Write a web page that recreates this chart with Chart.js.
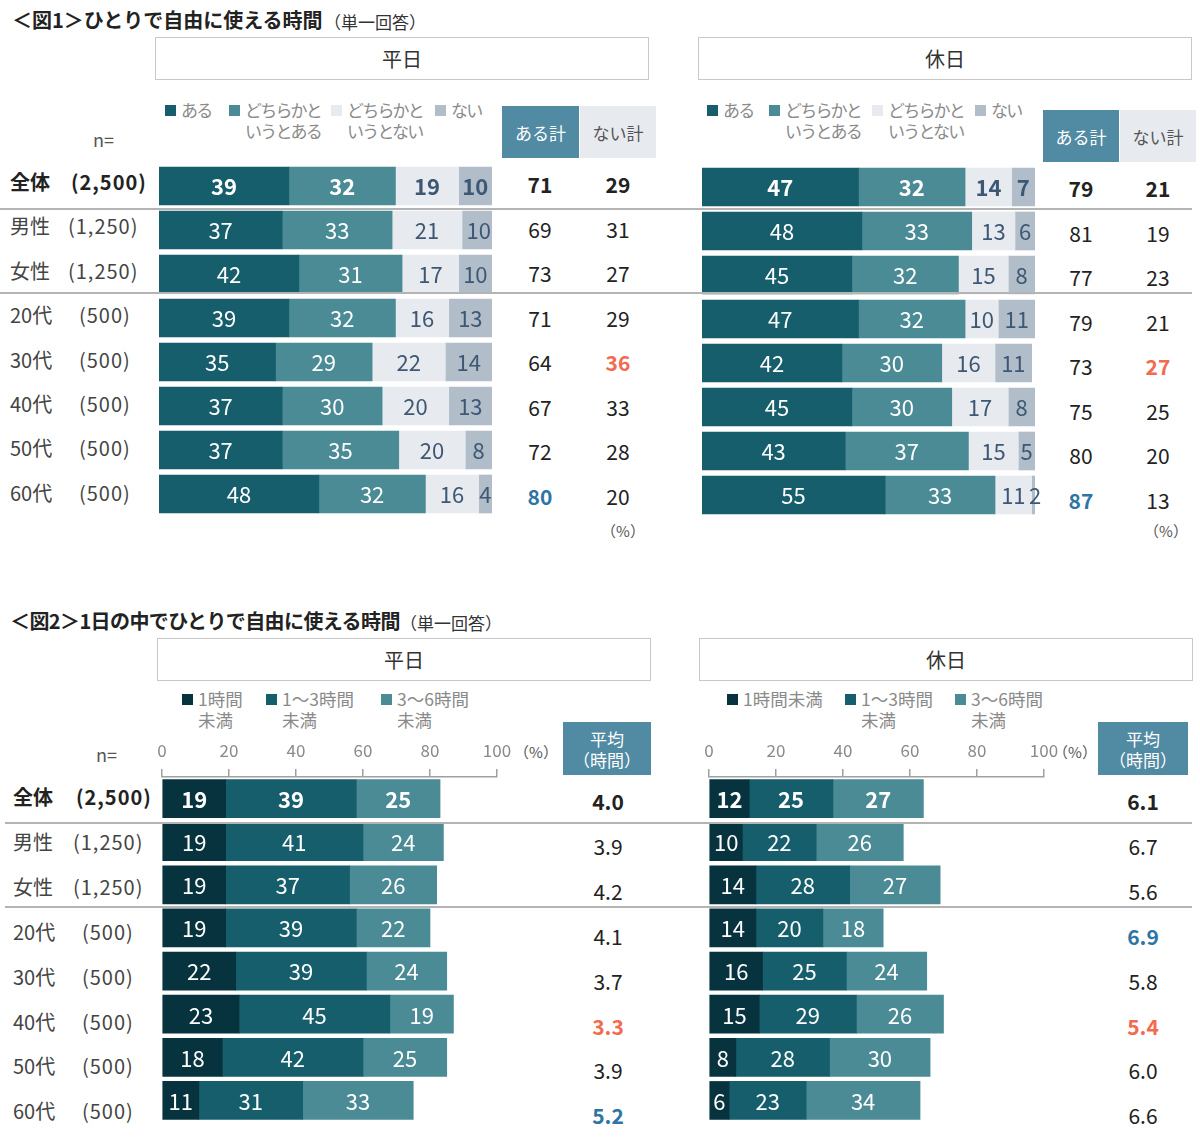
<!DOCTYPE html>
<html>
<head>
<meta charset="utf-8">
<script src="https://cdn.jsdelivr.net/npm/chart.js@4.4.1/dist/chart.umd.min.js"></script>
<style>
  body { margin: 0; background: #fff; font-family: "Noto Sans CJK JP", "Noto Sans", sans-serif; color: #333; }
  #page { position: relative; width: 1200px; height: 1145px; overflow: hidden; }
  .t { position: absolute; white-space: nowrap; line-height: 1; }
  .box { position: absolute; box-sizing: border-box; display: flex; align-items: center; justify-content: center; text-align: center; }
  .sq { position: absolute; width: 11px; height: 11px; }
  .line { position: absolute; height: 0; border-top: 2px solid #b4b4b4; }
  canvas { position: absolute; }
</style>
</head>
<body>
<div id="page"></div>
<script>
// ---- data ----
const rowNames = ["全体", "男性", "女性", "20代", "30代", "40代", "50代", "60代"];
const rowN = ["(2,500)", "(1,250)", "(1,250)", "(500)", "(500)", "(500)", "(500)", "(500)"];

// 図1 ひとりで自由に使える時間
const fig1Keys = ["ある", "どちらかと\nいうとある", "どちらかと\nいうとない", "ない"];
const weekdayAru = [39, 37, 42, 39, 35, 37, 37, 48];
const weekdayDochiraAru = [32, 33, 31, 32, 29, 30, 35, 32];
const weekdayDochiraNai = [19, 21, 17, 16, 22, 20, 20, 16];
const weekdayNai = [10, 10, 10, 13, 14, 13, 8, 4];
const weekdayAruTotal = [71, 69, 73, 71, 64, 67, 72, 80];
const weekdayNaiTotal = [29, 31, 27, 29, 36, 33, 28, 20];

const holidayAru = [47, 48, 45, 47, 42, 45, 43, 55];
const holidayDochiraAru = [32, 33, 32, 32, 30, 30, 37, 33];
const holidayDochiraNai = [14, 13, 15, 10, 16, 17, 15, 11];
const holidayNai = [7, 6, 8, 11, 11, 8, 5, 2];
const holidayAruTotal = [79, 81, 77, 79, 73, 75, 80, 87];
const holidayNaiTotal = [21, 19, 23, 21, 27, 25, 20, 13];

// 図2 1日の中でひとりで自由に使える時間
const weekdayKeys = ["1時間\n未満", "1～3時間\n未満", "3～6時間\n未満"];
const holidayKeys = ["1時間未満", "1～3時間\n未満", "3～6時間\n未満"];
const weekdayUnder1 = [19, 19, 19, 19, 22, 23, 18, 11];
const weekday1to3 = [39, 41, 37, 39, 39, 45, 42, 31];
const weekday3to6 = [25, 24, 26, 22, 24, 19, 25, 33];
const weekdayAvg = [4.0, 3.9, 4.2, 4.1, 3.7, 3.3, 3.9, 5.2];
const holidayUnder1 = [12, 10, 14, 14, 16, 15, 8, 6];
const holiday1to3 = [25, 22, 28, 20, 25, 29, 28, 23];
const holiday3to6 = [27, 26, 27, 18, 24, 26, 30, 34];
const holidayAvg = [6.1, 6.7, 5.6, 6.9, 5.8, 5.4, 6.0, 6.6];
const axisTicks = [0, 20, 40, 60, 80, 100];

// ---- helpers ----
const FONT = '"Noto Sans CJK JP", "Noto Sans", sans-serif';
const page = document.getElementById("page");
const C_ARU = "#165e6b", C_DARU = "#4a8b96", C_DNAI = "#e7eaef", C_NAI = "#b1bdc9", C_DEEP = "#07333f";
const C_HEAD = "#518aa3", C_RED = "#f26b50", C_BLUE = "#2e75a6", C_SLATE = "#3d5875";

function txt(x, y, s, css, align) {
  const d = document.createElement("div");
  d.className = "t";
  d.textContent = s;
  d.style.left = x + "px";
  d.style.top = y + "px";
  d.style.transform = align === "c" ? "translate(-50%,-50%)" : "translateY(-50%)";
  Object.assign(d.style, css || {});
  page.appendChild(d);
  return d;
}
function box(x, y, w, h, html, css) {
  const d = document.createElement("div");
  d.className = "box";
  Object.assign(d.style, { left: x + "px", top: y + "px", width: w + "px", height: h + "px" }, css || {});
  d.innerHTML = html;
  page.appendChild(d);
}
function hline(x1, x2, y) {
  const d = document.createElement("div");
  d.className = "line";
  Object.assign(d.style, { left: x1 + "px", top: y + "px", width: (x2 - x1) + "px" });
  page.appendChild(d);
}
function legend(xs, keys, colors, y, size, spacing) {
  keys.forEach((k, i) => {
    const sq = document.createElement("div");
    sq.className = "sq";
    Object.assign(sq.style, { left: xs[i] + "px", top: (y - 5) + "px", background: colors[i] });
    page.appendChild(sq);
    const d = txt(xs[i] + 16, y - 11, "", { color: "#8a8a8a", fontSize: size + "px", lineHeight: "21px", letterSpacing: spacing + "px", whiteSpace: "pre", transform: "none" });
    d.textContent = k;
  });
}
function rowLabels(xName, xN1250, xN500, y0, pitch) {
  rowNames.forEach((n, i) => {
    const bold = i === 0;
    const css = { fontSize: "20px", color: bold ? "#222" : "#444", fontWeight: bold ? "bold" : "normal" };
    txt(xName, y0 + pitch * i, n, css);
    const xn = i === 0 ? xN1250 + 3 : (rowN[i].length > 5 ? xN1250 : xN500);
    txt(xn, y0 + pitch * i, rowN[i], Object.assign({ letterSpacing: "1px" }, css));
  });
}
function headerBox(x, y, label) {
  box(x, y, 494, 43, label, { border: "1.5px solid #c8c8c8", fontSize: "20px", color: "#333" });
}
function ageIdx(arr, pick) {
  const ages = arr.slice(3);
  const v = pick === "max" ? Math.max(...ages) : Math.min(...ages);
  return 3 + ages.indexOf(v);
}
function numColumn(x, y0, pitch, arr, hi, fmt) {
  // hi: {index: color}
  arr.forEach((v, i) => {
    const css = { fontSize: "21px", color: "#222", fontWeight: i === 0 ? "bold" : "normal" };
    if (hi[i]) { css.color = hi[i]; css.fontWeight = "bold"; }
    txt(x, y0 + pitch * i, fmt ? v.toFixed(1) : String(v), css, "c");
  });
}

const barLabels = {
  id: "barLabels",
  afterDatasetsDraw(chart) {
    const ctx = chart.ctx;
    ctx.save();
    ctx.textAlign = "center";
    ctx.textBaseline = "middle";
    chart.data.datasets.forEach((ds, di) => {
      chart.getDatasetMeta(di).data.forEach((bar, i) => {
        ctx.fillStyle = ds.labelColor;
        ctx.font = (i === 0 ? "bold " : "") + "22px " + FONT;
        ctx.fillText(String(ds.data[i]), (bar.x + bar.base) / 2, bar.y + 1);
      });
    });
    ctx.restore();
  }
};

function makeChart(left, top, width, height, datasets, withAxis, padRight, padLeft) {
  const cv = document.createElement("canvas");
  cv.width = width; cv.height = height;
  cv.style.left = left + "px"; cv.style.top = top + "px";
  page.appendChild(cv);
  return new Chart(cv, {
    type: "bar",
    data: { labels: rowNames, datasets: datasets },
    options: {
      indexAxis: "y",
      responsive: false,
      animation: false,
      devicePixelRatio: 1,
      layout: { padding: { left: padLeft || 0, right: padRight, top: 0, bottom: 0 } },
      plugins: { legend: { display: false }, tooltip: { enabled: false } },
      datasets: { bar: { barThickness: 38, borderWidth: 0 } },
      scales: {
        y: { stacked: true, display: false },
        x: withAxis ? {
          stacked: true, position: "top", min: 0, max: 100,
          afterBuildTicks: s => { s.ticks = axisTicks.map(v => ({ value: v })); },
          afterFit: s => { s.height = 40; },
          ticks: { color: "#8a8a8a", font: { size: 17, family: FONT }, padding: 8, maxRotation: 0 },
          grid: { drawOnChartArea: false, drawTicks: true, tickLength: 8, color: "#a0a0a0", lineWidth: 1.5 },
          border: { display: true, color: "#a0a0a0", width: 1.5 }
        } : { stacked: true, display: false, min: 0, max: 100 }
      }
    },
    plugins: [barLabels]
  });
}
function ds(label, data, color, labelColor) {
  return { label: label, data: data, backgroundColor: color, labelColor: labelColor };
}

// ---- 図1 ----
txt(12, 20, "＜図1＞ひとりで自由に使える時間", { fontSize: "20px", fontWeight: "bold", color: "#222" });
txt(324, 21, "（単一回答）", { fontSize: "17px", color: "#333" });
headerBox(155, 37, "平日");
headerBox(698, 37, "休日");
const fig1Colors = [C_ARU, C_DARU, C_DNAI, C_NAI];
legend([165, 229, 331, 435], fig1Keys, fig1Colors, 110, 17, -1.8);
legend([707, 769, 872, 975], fig1Keys, fig1Colors, 110, 17, -1.8);
txt(93, 139, "n=", { fontSize: "18px", color: "#555" });
box(502, 106, 77, 52, "ある計", { background: C_HEAD, color: "#fff", fontSize: "17px" });
box(580, 106, 76, 52, "ない計", { background: "#e7eaee", color: "#555", fontSize: "17px" });
box(1043, 110, 76, 52, "ある計", { background: C_HEAD, color: "#fff", fontSize: "17px" });
box(1120, 110, 76, 52, "ない計", { background: "#e7eaee", color: "#555", fontSize: "17px" });

rowLabels(10, 68, 79, 182, 44.4);

makeChart(159, 164, 360, 352, [
  ds(fig1Keys[0], weekdayAru, C_ARU, "#fff"),
  ds(fig1Keys[1], weekdayDochiraAru, C_DARU, "#fff"),
  ds(fig1Keys[2], weekdayDochiraNai, C_DNAI, C_SLATE),
  ds(fig1Keys[3], weekdayNai, C_NAI, C_SLATE)
], false, 27);
makeChart(702, 165, 360, 352, [
  ds(fig1Keys[0], holidayAru, C_ARU, "#fff"),
  ds(fig1Keys[1], holidayDochiraAru, C_DARU, "#fff"),
  ds(fig1Keys[2], holidayDochiraNai, C_DNAI, C_SLATE),
  ds(fig1Keys[3], holidayNai, C_NAI, C_SLATE)
], false, 27);

// highest ある計 among age groups in blue, highest ない計 in red
numColumn(540, 184, 44.5, weekdayAruTotal, { [ageIdx(weekdayAruTotal, "max")]: C_BLUE });
numColumn(618, 184, 44.5, weekdayNaiTotal, { [ageIdx(weekdayNaiTotal, "max")]: C_RED });
numColumn(1081, 188, 44.5, holidayAruTotal, { [ageIdx(holidayAruTotal, "max")]: C_BLUE });
numColumn(1158, 188, 44.5, holidayNaiTotal, { [ageIdx(holidayNaiTotal, "max")]: C_RED });
txt(623, 530, "（%）", { fontSize: "15px", color: "#555" }, "c");
txt(1166, 530, "（%）", { fontSize: "15px", color: "#555" }, "c");
hline(0, 1192, 208);
hline(0, 1192, 292);

// ---- 図2 ----
txt(10, 621, "＜図2＞1日の中でひとりで自由に使える時間", { fontSize: "20px", fontWeight: "bold", color: "#222", letterSpacing: "-0.6px" });
txt(400, 622, "（単一回答）", { fontSize: "17px", color: "#333" });
headerBox(157, 638, "平日");
headerBox(699, 638, "休日");
const fig2Colors = [C_DEEP, C_ARU, C_DARU];
legend([182, 266, 381], weekdayKeys, fig2Colors, 699, 17.5, 0);
legend([727, 845, 955], holidayKeys, fig2Colors, 699, 17.5, 0);
txt(96, 754, "n=", { fontSize: "18px", color: "#555" });
txt(536, 751, "（%）", { fontSize: "15px", color: "#555" }, "c");
txt(1075, 751, "（%）", { fontSize: "15px", color: "#555" }, "c");
box(563, 722, 88, 53, "平均<br>（時間）", { background: C_HEAD, color: "#fff", fontSize: "17px", lineHeight: "21px" });
box(1098, 722, 90, 53, "平均<br>（時間）", { background: C_HEAD, color: "#fff", fontSize: "17px", lineHeight: "21px" });

rowLabels(13, 73, 82, 797, 44.9);

makeChart(147, 737, 375, 385, [
  ds(weekdayKeys[0], weekdayUnder1, C_DEEP, "#fff"),
  ds(weekdayKeys[1], weekday1to3, C_ARU, "#fff"),
  ds(weekdayKeys[2], weekday3to6, C_DARU, "#fff")
], true, 25, 15);
makeChart(694, 737, 375, 385, [
  ds(holidayKeys[0], holidayUnder1, C_DEEP, "#fff"),
  ds(holidayKeys[1], holiday1to3, C_ARU, "#fff"),
  ds(holidayKeys[2], holiday3to6, C_DARU, "#fff")
], true, 25, 15);

// highest average among age groups in blue, lowest in red
numColumn(608, 801, 44.9, weekdayAvg, { [ageIdx(weekdayAvg, "max")]: C_BLUE, [ageIdx(weekdayAvg, "min")]: C_RED }, true);
numColumn(1143, 801, 44.9, holidayAvg, { [ageIdx(holidayAvg, "max")]: C_BLUE, [ageIdx(holidayAvg, "min")]: C_RED }, true);
hline(5, 1192, 822);
hline(5, 1192, 906);
</script>
</body>
</html>
